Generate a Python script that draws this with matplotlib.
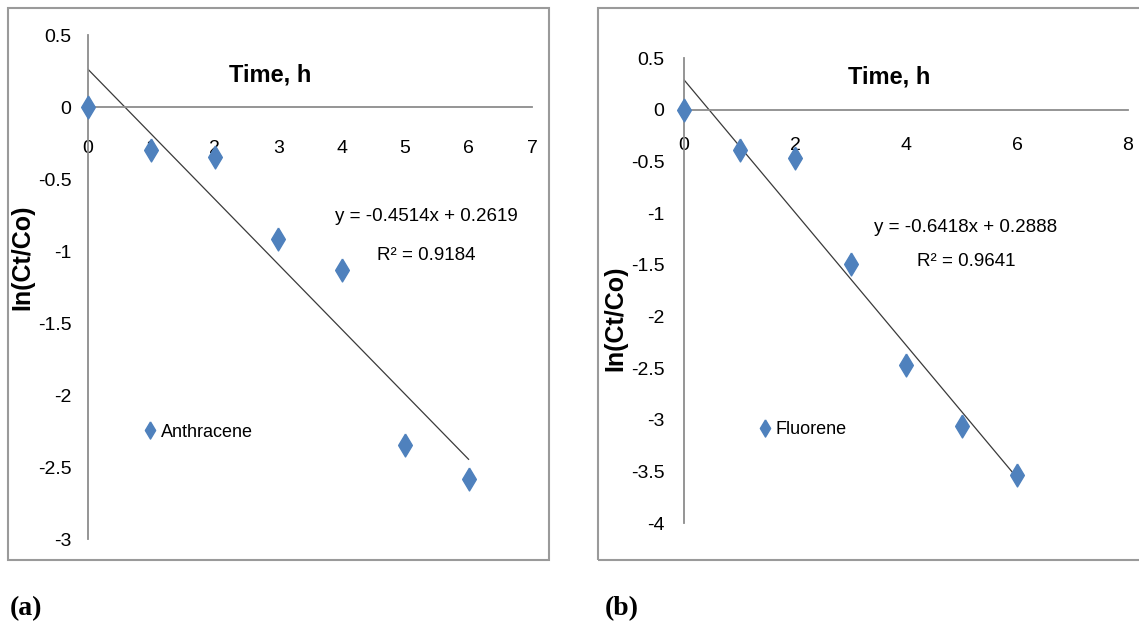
import numpy as np
import matplotlib
matplotlib.use('Agg')
import matplotlib.pyplot as plt
from matplotlib.patches import Rectangle
from matplotlib.ticker import MultipleLocator, FuncFormatter

plt.rcParams['axes.unicode_minus'] = False

# data
hours = [0, 1, 2, 3, 4, 5, 6]
anthracene = [0, -0.30, -0.35, -0.92, -1.13, -2.35, -2.58]
fluorene = [0, -0.39, -0.47, -1.49, -2.47, -3.06, -3.54]
anth_fit = (-0.4514, 0.2619, 0.9184)
fluo_fit = (-0.6418, 0.2888, 0.9641)

W, H = 1139, 633
sans = ['Liberation Sans', 'DejaVu Sans']
blue = '#4F81BD'
diamond = [(0, 1), (0.6, 0), (0, -1), (-0.6, 0), (0, 1)]

fig = plt.figure(figsize=(W/100, H/100), dpi=100)


def px_axes(x0, x1, y_top, y_bot):
    # pixel box -> figure fraction
    return [x0/W, (H - y_bot)/H, (x1 - x0)/W, (y_bot - y_top)/H]


def fmt(v, pos):
    return '%g' % v if abs(v) > 1e-9 else '0'


def panel(rect, xmax, xstep, ymin, yvals, fit, name, xpad, ypad,
          eq_xy, title_xy, leg_xy, ylab_xy):
    ax = fig.add_axes(rect)
    ax.set_xlim(0, xmax)
    ax.set_ylim(ymin, 0.5)
    for s in ['top', 'right']:
        ax.spines[s].set_visible(False)
    ax.spines['bottom'].set_position(('data', 0))
    for s in ['left', 'bottom']:
        ax.spines[s].set_color('#8c8c8c')
        ax.spines[s].set_linewidth(1.3)
    ax.xaxis.set_major_locator(MultipleLocator(xstep))
    ax.yaxis.set_major_locator(MultipleLocator(0.5))
    ax.xaxis.set_major_formatter(FuncFormatter(fmt))
    ax.yaxis.set_major_formatter(FuncFormatter(fmt))
    ax.tick_params(axis='x', length=0, pad=xpad, labelsize=14)
    ax.tick_params(axis='y', length=0, pad=ypad, labelsize=14)
    for lab in ax.get_xticklabels() + ax.get_yticklabels():
        lab.set_family(sans)
    ax.patch.set_alpha(0)

    ax.plot(hours, yvals, linestyle='none', marker=diamond, ms=16.5,
            color=blue, clip_on=False, label=name, zorder=3)
    xs = np.array([hours[0], hours[-1]])
    ax.plot(xs, fit[0]*xs + fit[1], color='#3a3a3a', lw=0.9, zorder=2)

    ax.text(eq_xy[0], eq_xy[1], f'y = {fit[0]:.4f}x + {fit[1]:.4f}',
            ha='center', va='center', fontsize=13.5, family=sans)
    ax.text(eq_xy[0], eq_xy[2], f'R\u00b2 = {fit[2]:.4f}',
            ha='center', va='center', fontsize=13.5, family=sans)
    ax.text(title_xy[0], title_xy[1], 'Time, h', ha='center', va='center',
            fontsize=17, fontweight='bold', family=sans)
    ax.set_ylabel('In(Ct/Co)', fontsize=18, fontweight='bold', family=sans)
    ax.yaxis.set_label_coords(*ylab_xy)
    ax.legend(loc='center left', bbox_to_anchor=leg_xy, frameon=False,
              borderpad=0, borderaxespad=0, handlelength=0.8,
              handletextpad=0.2, markerscale=0.75,
              prop={'family': sans, 'size': 13})
    return ax


# outer chart boxes
fig.patches.append(Rectangle((8/W, (H-560)/H), 541/W, 552/H, fill=False,
                             edgecolor='#9a9a9a', lw=1.5,
                             transform=fig.transFigure, figure=fig))
fig.patches.append(Rectangle((598/W, (H-560)/H), 560/W, 552/H, fill=False,
                             edgecolor='#9a9a9a', lw=1.5,
                             transform=fig.transFigure, figure=fig))

panel(px_axes(88, 532, 35, 539), 7, 1, -3, anthracene, anth_fit,
      'Anthracene', 24, 12, (5.33, -0.76, -1.03), (2.87, 0.22),
      (0.124, 0.212), (-0.12, 0.56))
panel(px_axes(684, 1128, 58, 523), 8, 2, -4, fluorene, fluo_fit,
      'Fluorene', 20, 14, (5.08, -1.14, -1.47), (3.69, 0.32),
      (0.166, 0.200), (-0.128, 0.441))

fig.text(10/W, 1 - 609/H, '(a)', ha='left', va='center', fontsize=20,
         fontweight='bold', family=['Liberation Serif', 'DejaVu Serif'])
fig.text(605/W, 1 - 609/H, '(b)', ha='left', va='center', fontsize=20,
         fontweight='bold', family=['Liberation Serif', 'DejaVu Serif'])

fig.savefig('out.png', dpi=100)
